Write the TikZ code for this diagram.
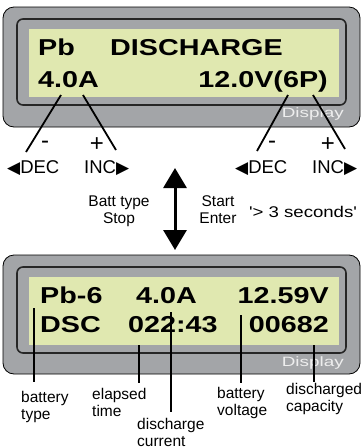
\documentclass[tikz,border=0pt]{standalone}
\usepackage{fontspec}
\setmainfont{Liberation Sans}
\newfontfamily\lcdfont{Liberation Sans}[FakeStretch=1.25]
\newfontfamily\dispfont{Liberation Sans}[FakeStretch=1.4]
\newfontfamily\widefont{Liberation Sans}[FakeStretch=1.2]
\newfontfamily\symfont{DejaVu Sans}
\usetikzlibrary{positioning,arrows.meta,calc}

\definecolor{frameGray}{RGB}{163,165,168}
\definecolor{lcdGreen}{RGB}{224,232,176}
\definecolor{dispWhite}{RGB}{238,238,238}

\newcommand{\lcdsize}{\lcdfont\bfseries\fontsize{23}{27}\selectfont}
\newcommand{\lblsize}{\fontsize{15.5}{16.5}\selectfont}
\newcommand{\keysize}{\fontsize{18.5}{21}\selectfont}
\newcommand{\lt}{{\symfont\fontsize{17}{19}\selectfont ◀}}
\newcommand{\rt}{{\symfont\fontsize{17}{19}\selectfont ▶}}

\begin{document}
\begin{tikzpicture}[
  x=1pt, y=-1pt,
  outer/.style={draw=black, line width=0.8pt, fill=frameGray, rounded corners=11pt},
  inner/.style={draw=black!85, line width=1.6pt, fill=frameGray, rounded corners=6pt},
  lcd/.style={fill=lcdGreen},
  lcdtxt/.style={anchor=base west, inner sep=0pt, font=\lcdsize},
  disp/.style={anchor=base east, inner sep=0pt, text=dispWhite, font=\dispfont\fontsize{13.5}{15}\selectfont},
  key/.style={anchor=base west, inner sep=0pt, font=\keysize},
  sign/.style={inner sep=0pt, font=\fontsize{24}{26}\selectfont},
  lbl/.style={anchor=base west, inner sep=0pt, align=left, font=\lblsize},
  mid/.style={anchor=base, inner sep=0pt, align=center, font=\lblsize},
  lead/.style={line width=1.8pt},
  pin/.style={line width=1.3pt},
  dbl/.style={line width=3pt, {Triangle[width=23pt,length=20pt]}-{Triangle[width=23pt,length=20pt]}}
]
\useasboundingbox (0,0) rectangle (364,448);

% ---- upper display ----
\draw[outer] (3,7) rectangle (360,127);
\draw[inner] (17,19) rectangle (346,105);
\fill[lcd] (29,29) rectangle (339,97);
\node[lcdtxt] (typeA) at (38,55) {Pb};
\node[lcdtxt] (modeA) at (110,55) {DISCHARGE};
\node[lcdtxt] (currA) at (38,87) {4.0A};
\node[lcdtxt, anchor=base east] (voltA) at (328,87) {12.0V(6P)};
\node[disp] (dispA) at (344,117) {Display};

% ---- keys ----
\node[key] (decL) at (7,173) {\lt DEC};
\node[key] (incL) at (84,173) {INC\rt};
\node[key] (decR) at (235,173) {\lt DEC};
\node[key] (incR) at (312,173) {INC\rt};
\node[sign] (minL) at (45,145) {-};
\node[sign] (plsL) at (97,145) {+};
\node[sign] (minR) at (272,145) {-};
\node[sign] (plsR) at (328,145) {+};

\coordinate (aDec) at (61,95);  \coordinate (bDec) at (26,152);
\coordinate (aInc) at (83,95);  \coordinate (bInc) at (116,150);
\coordinate (cDec) at (288,95); \coordinate (dDec) at (257,151);
\coordinate (cInc) at (313,95); \coordinate (dInc) at (345,149);
\draw[lead] (aDec) -- (bDec);
\draw[lead] (aInc) -- (bInc);
\draw[lead] (cDec) -- (dDec);
\draw[lead] (cInc) -- (dInc);

% ---- switching ----
\coordinate (swTop) at (175,168);
\coordinate (swBot) at (175,250);
\draw[dbl] (swTop) -- (swBot);
\node[mid] (stopLbl) at (119,223) {Batt type\\Stop};
\node[mid] (startLbl) at (218,223) {Start\\Enter};
\node[mid, font=\widefont\lblsize] (holdLbl) at (303,217) {'> 3 seconds'};

% ---- lower display ----
\draw[outer] (3,255) rectangle (360,374);
\draw[inner] (17,267) rectangle (346,353);
\fill[lcd] (29,277) rectangle (339,345);
\node[lcdtxt] (typeB) at (40,303) {Pb-6};
\node[lcdtxt] (currB) at (136,303) {4.0A};
\node[lcdtxt, anchor=base east] (voltB) at (329,303) {12.59V};
\node[lcdtxt] (modeB) at (40,332) {DSC};
\node[lcdtxt] (timeB) at (128,332) {022:43};
\node[lcdtxt, anchor=base east] (capB) at (329,332) {00682};
\node[disp] (dispB) at (344,366) {Display};

% ---- captions ----
\node[lbl] (battLbl) at (21,419) {battery\\type};
\node[lbl] (elapLbl) at (92,416) {elapsed\\time};
\node[lbl] (dchgLbl) at (137,446) {discharge\\current};
\node[lbl] (voltLbl) at (217,415) {battery\\voltage};
\node[lbl] (capLbl) at (286,411) {discharged\\capacity};

\coordinate (pType) at (34,308);  \coordinate (qType) at (34,382);
\coordinate (pTime) at (139,345); \coordinate (qTime) at (139,383);
\coordinate (pCurr) at (171,312); \coordinate (qCurr) at (171,412);
\coordinate (pVolt) at (241,315); \coordinate (qVolt) at (241,383);
\coordinate (pCap) at (314,345);  \coordinate (qCap) at (314,382);
\draw[pin] (pType) -- (qType);
\draw[pin] (pTime) -- (qTime);
\draw[pin] (pCurr) -- (qCurr);
\draw[pin] (pVolt) -- (qVolt);
\draw[pin] (pCap) -- (qCap);
\end{tikzpicture}
\end{document}
